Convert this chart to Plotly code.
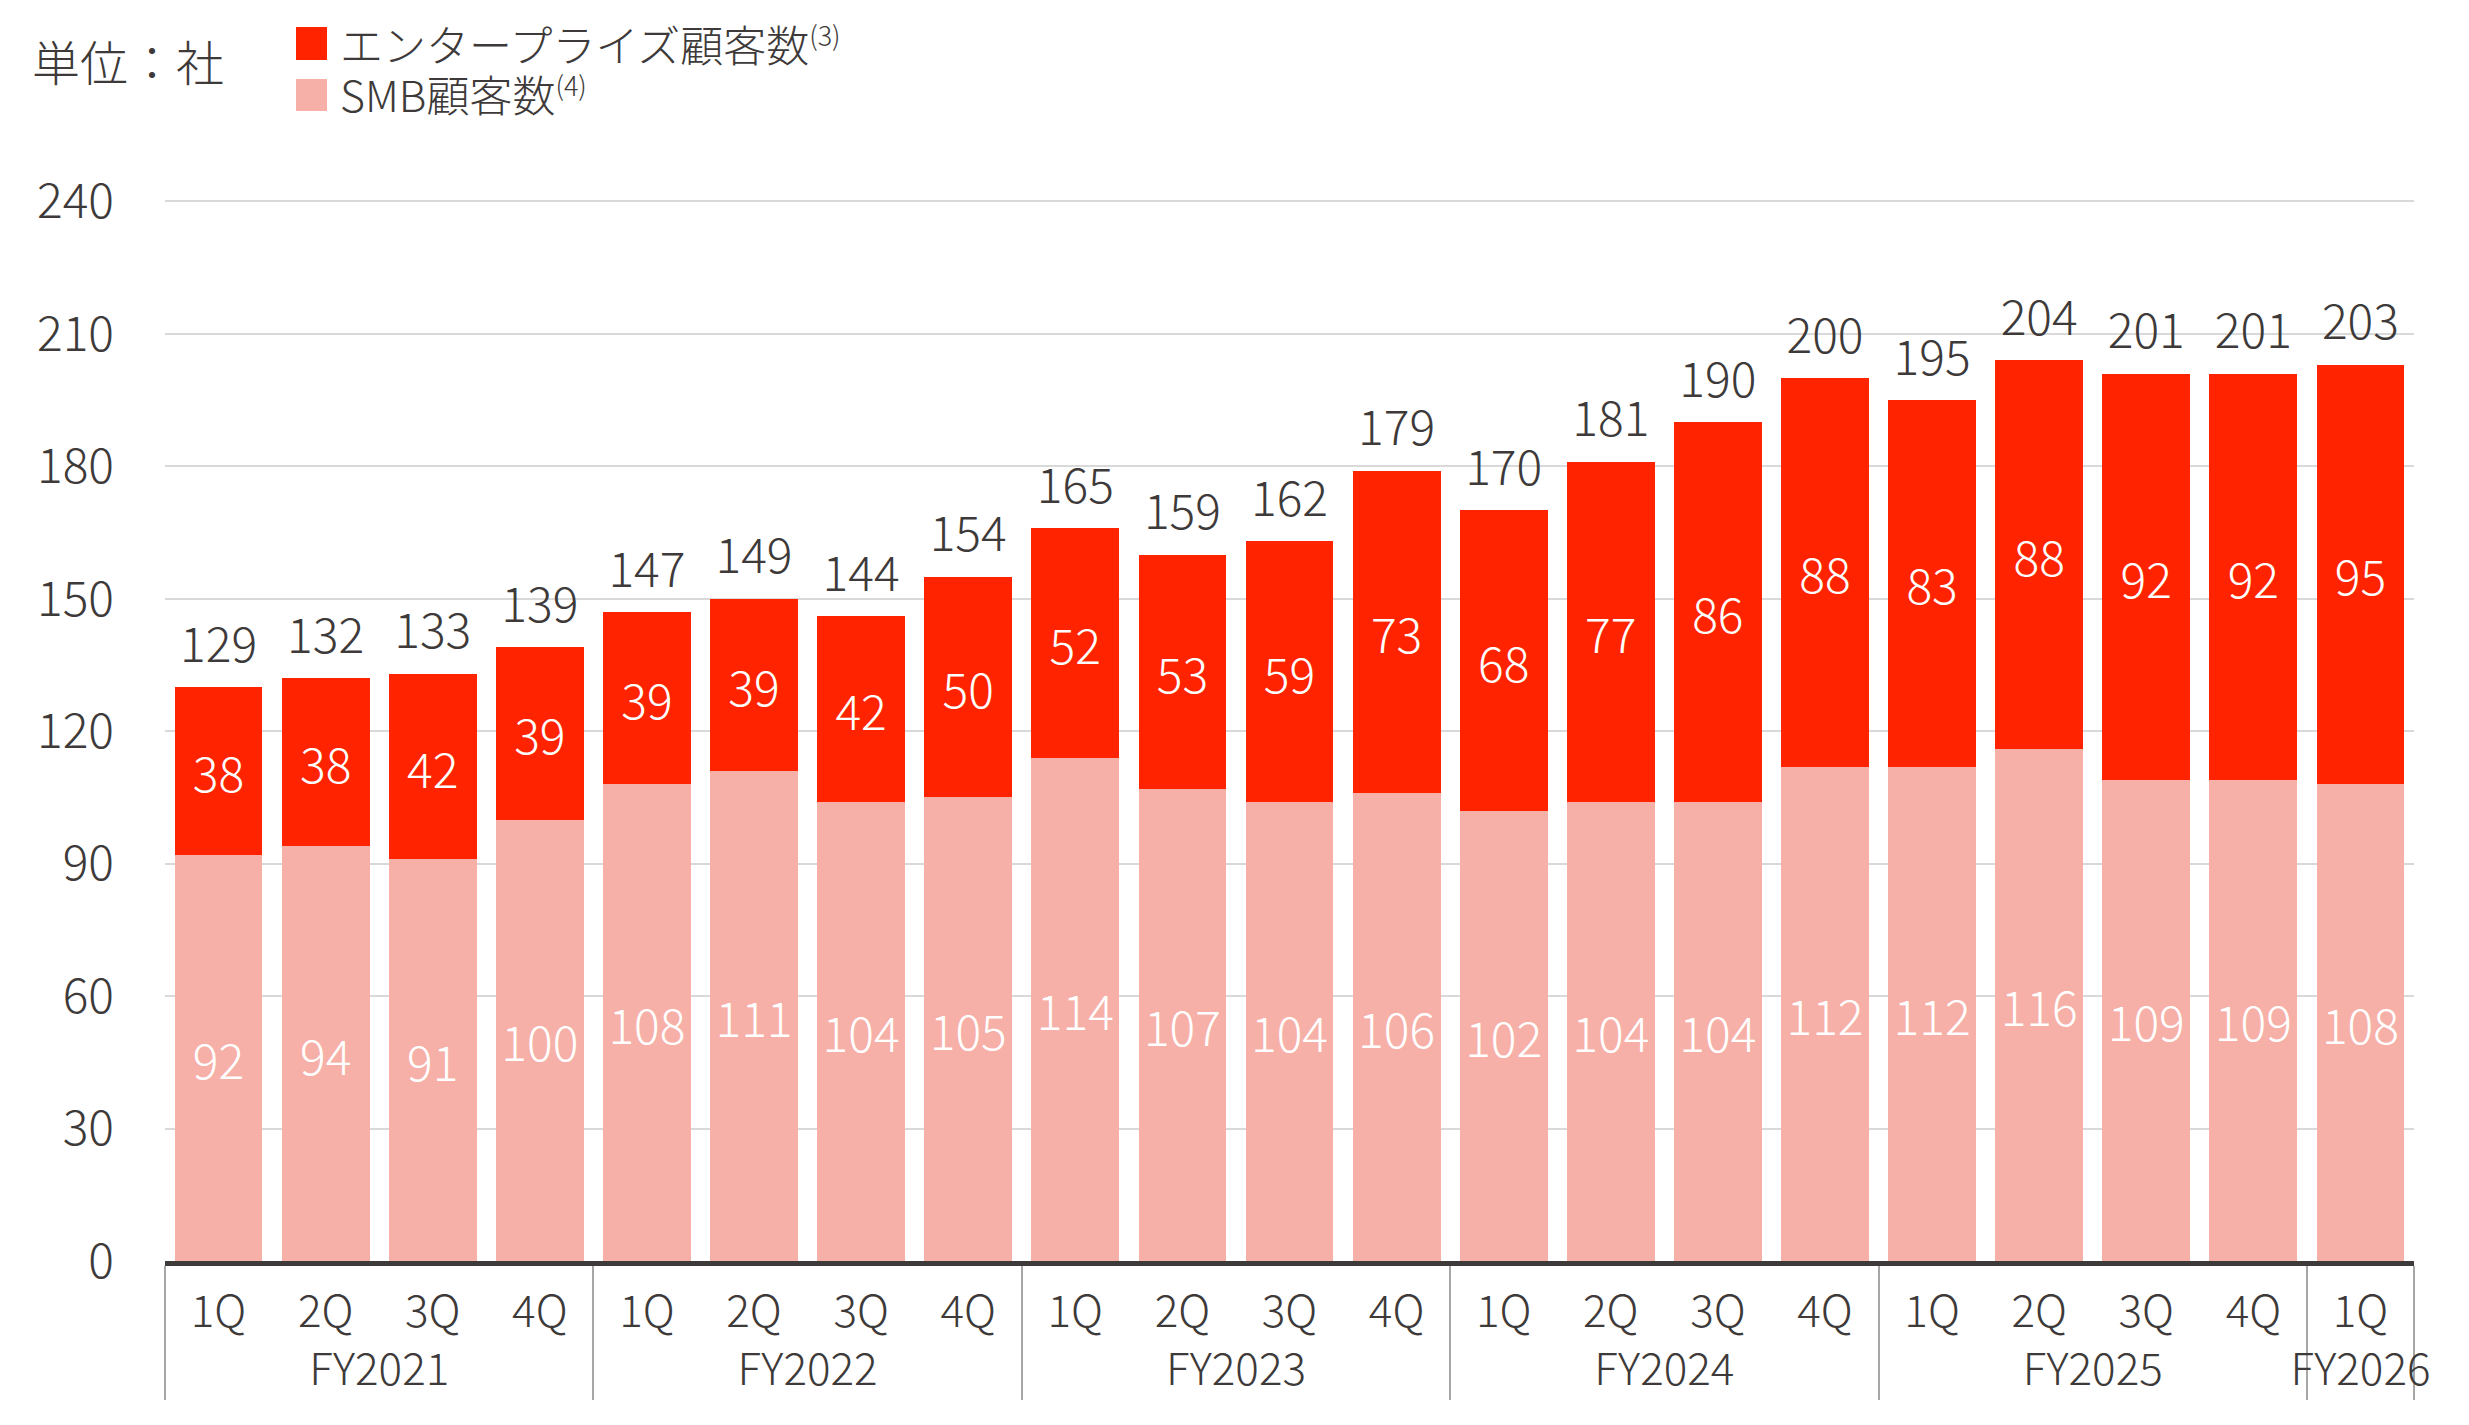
import plotly.graph_objects as go

# ---- data ----
fiscal_years = ["FY2021"] * 4 + ["FY2022"] * 4 + ["FY2023"] * 4 + ["FY2024"] * 4 + ["FY2025"] * 4 + ["FY2026"]
quarters = ["1Q", "2Q", "3Q", "4Q"] * 5 + ["1Q"]
enterprise = [38, 38, 42, 39, 39, 39, 42, 50, 52, 53, 59, 73, 68, 77, 86, 88, 83, 88, 92, 92, 95]
smb = [92, 94, 91, 100, 108, 111, 104, 105, 114, 107, 104, 106, 102, 104, 104, 112, 112, 116, 109, 109, 108]
total_labels = ["129", "132", "133", "139", "147", "149", "144", "154", "165", "159", "162", "179",
                "170", "181", "190", "200", "195", "204", "201", "201", "203"]
y_ticks = [0, 30, 60, 90, 120, 150, 180, 210, 240]

RED = "#ff2300"
PINK = "#f6b0a8"
TXT = "#3d3a39"
FONT = "Noto Sans CJK JP, Noto Sans, sans-serif"
W = 300

x = [fiscal_years, quarters]
tops = [a + b for a, b in zip(smb, enterprise)]

fig = go.Figure()
fig.add_trace(go.Bar(
    x=x, y=smb, marker=dict(color=PINK, line=dict(width=0)),
    text=[str(v) for v in smb], textposition="inside", insidetextanchor="middle",
    textfont=dict(color="white", size=48, family=FONT, weight=W), constraintext="none",
    textangle=0, showlegend=False, name="SMB顧客数"))
fig.add_trace(go.Bar(
    x=x, y=enterprise, marker=dict(color=RED, line=dict(width=0)),
    text=[str(v) for v in enterprise], textposition="inside", insidetextanchor="middle",
    textfont=dict(color="white", size=48, family=FONT, weight=W), constraintext="none",
    textangle=0, showlegend=False, name="エンタープライズ顧客数"))
fig.add_trace(go.Scatter(
    x=x, y=tops, mode="markers+text", text=total_labels, textposition="top center",
    marker=dict(size=20, opacity=0), hoverinfo="skip",
    textfont=dict(color=TXT, size=48, family=FONT, weight=W), showlegend=False, cliponaxis=False))

# page offset of 8px (default body margin) -> work in figure coords
OFF = 8
FW, FH = 2469 - 2 * OFF, 1425 - 2 * OFF
PL, PR, PB = 165 - OFF, 2414 - OFF, 1261 - OFF
Y240 = 201.5 - OFF
YMAX = 241
unit = (PB - Y240) / 240
PT = PB - unit * YMAX
PW, PH = PR - PL, PB - PT


def px(xf):
    return (xf - OFF - PL) / PW


def py(yf):
    return (PB - (yf - OFF)) / PH


# legend (drawn manually for large swatches)
fig.add_shape(type="rect", xref="paper", yref="paper", x0=px(296), x1=px(327),
              y0=py(60), y1=py(27), fillcolor=RED, line=dict(width=0))
fig.add_shape(type="rect", xref="paper", yref="paper", x0=px(296), x1=px(327),
              y0=py(111), y1=py(79), fillcolor=PINK, line=dict(width=0))
fig.add_annotation(xref="paper", yref="paper", x=px(338), y=py(68),
                   xanchor="left", yanchor="middle", align="left", showarrow=False,
                   text=("<span style='font-size:43px'>エンタープライズ顧客数</span><sup>(3)</sup><br>"
                         "<span style='font-size:43px'>SMB顧客数</span><sup>(4)</sup>"),
                   font=dict(size=38.5, color=TXT, family=FONT, weight=W))
fig.add_annotation(xref="paper", yref="paper", x=px(30), y=py(60),
                   xanchor="left", yanchor="middle", showarrow=False,
                   text="単位：社", font=dict(size=48, color=TXT, family=FONT, weight=W))

fig.update_layout(
    width=FW, height=FH,
    margin=dict(l=PL, r=FW - PR, t=PT, b=FH - PB),
    barmode="stack", bargap=0.18,
    plot_bgcolor="white", paper_bgcolor="white",
    font=dict(family=FONT, color=TXT),
    showlegend=False,
    xaxis=dict(
        type="multicategory", showline=True, linecolor=TXT, linewidth=5,
        tickfont=dict(size=44, color=TXT, family=FONT, weight=W), showgrid=False,
        showdividers=True, dividercolor="#a6a6a6", dividerwidth=2,
        ticks="", ticklabelstandoff=8,
        range=[-0.5, 20.5], autorange=False, automargin=False,
    ),
    yaxis=dict(
        range=[0, YMAX], autorange=False, tickvals=y_ticks, showgrid=True, gridcolor="#d9d9d9", gridwidth=2,
        zeroline=False, tickfont=dict(size=48, color=TXT, family=FONT, weight=W), ticks="",
        showline=False, automargin=False, ticklabelstandoff=50,
    ),
)

fig.write_html("out.html")
